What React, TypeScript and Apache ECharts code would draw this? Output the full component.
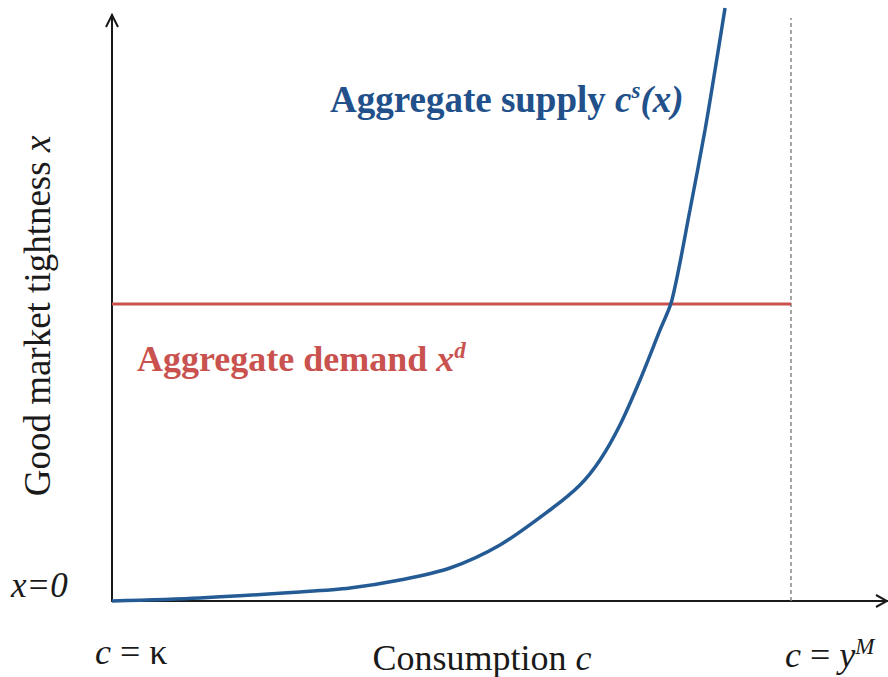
import React, { useEffect, useRef } from "react";
import * as echarts from "echarts";

const supplyX = [0, 11.34, 24.23, 30.67, 37.11, 43.56, 50.0, 56.44, 60.31, 62.89, 65.46, 68.04, 70.62, 72.16, 74.48, 76.42, 77.71, 79.0];
const supplyY = [0, 0.51, 1.54, 2.22, 3.58, 5.63, 9.56, 15.53, 19.8, 24.06, 30.03, 37.71, 46.25, 51.37, 66.72, 80.38, 90.61, 101.19];
const demandLevel = 50.7;
const capacityC = 87.5;

const BLUE = "#245b94";
const BLUE_TXT = "#21508a";
const RED = "#c9524f";
const INK = "#1a1a1a";
const SERIF = "Liberation Serif";

const r = (size: number, fill: string, extra: any = {}) => ({ fontFamily: SERIF, fontSize: size, fill, color: fill, ...extra });

export default function App() {
  const ref = useRef<HTMLDivElement>(null);
  useEffect(() => {
    document.body.style.margin = "0";
    const chart = echarts.init(ref.current!, null, { renderer: "svg" });
    const supply = supplyX.map((x, i) => [x, supplyY[i]]);
    chart.setOption({
      animation: false,
      backgroundColor: "#ffffff",
      textStyle: { fontFamily: SERIF },
      grid: { left: 112, top: 15, right: 0, bottom: 76, outerBoundsMode: "none", containLabel: false },
      xAxis: {
        type: "value", min: 0, max: 100,
        axisLine: { show: true, lineStyle: { color: INK, width: 2 } },
        axisTick: { show: false }, axisLabel: { show: false }, splitLine: { show: false },
      },
      yAxis: {
        type: "value", min: 0, max: 100,
        axisLine: { show: true, lineStyle: { color: INK, width: 2 } },
        axisTick: { show: false }, axisLabel: { show: false }, splitLine: { show: false },
      },
      series: [
        {
          type: "line", data: [[capacityC, 0], [capacityC, 99.5]], symbol: "none",
          lineStyle: { color: "#888888", width: 1.5, type: [4, 3] }, z: 1,
        },
        {
          type: "line", data: [[0, demandLevel], [capacityC, demandLevel]], symbol: "none",
          lineStyle: { color: RED, width: 3 }, z: 2,
        },
        {
          type: "line", data: supply, symbol: "none", smooth: 0.3, clip: false,
          lineStyle: { color: BLUE, width: 3.5 }, z: 3,
        },
      ],
      graphic: [
        { type: "polyline", shape: { points: [[106, 27], [112, 15], [118, 27]] }, style: { stroke: INK, lineWidth: 2, fill: "none" } },
        { type: "polyline", shape: { points: [[876, 595], [887, 601], [876, 607]] }, style: { stroke: INK, lineWidth: 2, fill: "none" } },
        {
          type: "text", x: 330, y: 79,
          style: {
            text: "{b|Aggregate supply }{bi|c}{sup|s}{bi|(x)}",
            rich: {
              b: r(37, BLUE_TXT, { fontWeight: "bold" }),
              bi: r(37, BLUE_TXT, { fontWeight: "bold", fontStyle: "italic" }),
              sup: r(23, BLUE_TXT, { fontWeight: "bold", fontStyle: "italic", padding: [0, 0, 17, 0], verticalAlign: "bottom" }),
            },
          },
        },
        {
          type: "text", x: 137, y: 339,
          style: {
            text: "{b|Aggregate demand }{bi|x}{sup|d}",
            rich: {
              b: r(36, RED, { fontWeight: "bold" }),
              bi: r(36, RED, { fontWeight: "bold", fontStyle: "italic" }),
              sup: r(23, RED, { fontWeight: "bold", fontStyle: "italic", padding: [0, 0, 16, 0], verticalAlign: "bottom" }),
            },
          },
        },
        {
          type: "text", x: 37, y: 316, rotation: Math.PI / 2,
          style: {
            text: "{n|Good market tightness }{i|x}",
            align: "center", verticalAlign: "middle",
            rich: { n: r(37, INK), i: r(37, INK, { fontStyle: "italic" }) },
          },
        },
        {
          type: "text", x: 482, y: 658,
          style: {
            text: "{n|Consumption }{i|c}",
            align: "center", verticalAlign: "middle",
            rich: { n: r(36, INK), i: r(36, INK, { fontStyle: "italic" }) },
          },
        },
        {
          type: "text", x: 11, y: 568,
          style: { text: "{i|x=0}", rich: { i: r(35, INK, { fontStyle: "italic" }) } },
        },
        {
          type: "text", x: 95, y: 634,
          style: {
            text: "{i|c}{n| = κ}",
            rich: { n: r(36, INK), i: r(36, INK, { fontStyle: "italic" }) },
          },
        },
        {
          type: "text", x: 785, y: 635,
          style: {
            text: "{i|c}{n| = }{i|y}{sup|M}",
            rich: {
              n: r(36, INK),
              i: r(36, INK, { fontStyle: "italic" }),
              sup: r(23, INK, { fontStyle: "italic", padding: [0, 0, 16, 0], verticalAlign: "bottom" }),
            },
          },
        },
      ],
    });
    return () => chart.dispose();
  }, []);
  return <div ref={ref} style={{ width: 888, height: 677 }} />;
}
